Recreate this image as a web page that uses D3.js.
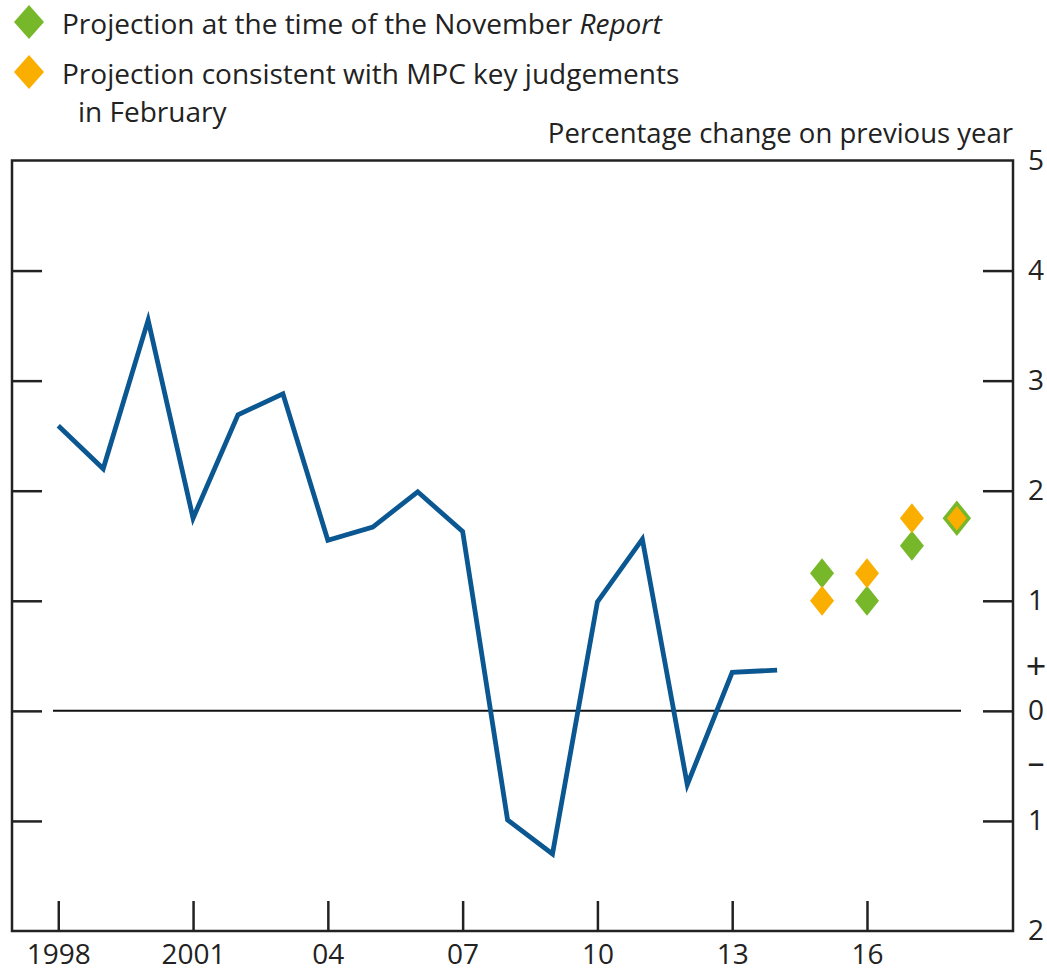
<!DOCTYPE html>
<html>
<head>
<meta charset="utf-8">
<script src="https://cdn.jsdelivr.net/npm/d3@7"></script>
<style>
  body { margin: 0; background: #fff; }
  text { font-family: "Open Sans", sans-serif; fill: #222; }
</style>
</head>
<body>
<script>
// annual data
const years = [1998, 1999, 2000, 2001, 2002, 2003, 2004, 2005, 2006, 2007, 2008, 2009, 2010, 2011, 2012, 2013, 2014]
const growth = [2.59, 2.20, 3.55, 1.75, 2.69, 2.88, 1.55, 1.67, 1.99, 1.63, -0.99, -1.30, 0.99, 1.56, -0.67, 0.35, 0.37]

const projYears = [2015, 2016, 2017, 2018]
const novProj = [1.25, 1.0, 1.5, 1.75]
const febProj = [1.0, 1.25, 1.75, 1.75]

const xTicks = [1998, 2001, 2004, 2007, 2010, 2013, 2016]
const xTickLabels = ['1998', '2001', '04', '07', '10', '13', '16']
const yTicks = [-2, -1, 0, 1, 2, 3, 4, 5]
const yTickLabels = ['2', '1', '0', '1', '2', '3', '4', '5']

const width = 1047
const height = 973
const plotLeft = 12, plotRight = 1013, plotTop = 160.5, plotBottom = 931
const tickLen = 30

const blue = '#0b5792'
const green = '#76b82a'
const orange = '#f9ae00'

const svg = d3.select('body').append('svg')
  .attr('width', width)
  .attr('height', height)

const x = d3.scaleLinear()
  .domain([1996.97, 2019.25])
  .range([plotLeft, plotRight])

const y = d3.scaleLinear()
  .domain([-2, 5])
  .range([plotBottom, plotTop])

// ticks pointing into the plot
svg.append('g')
  .attr('transform', 'translate(0,' + plotBottom + ')')
  .call(d3.axisBottom(x).tickValues(xTicks).tickSize(-tickLen).tickPadding(13)
    .tickFormat((d, i) => xTickLabels[i]))
  .call(g => g.select('.domain').remove())
  .call(g => g.selectAll('line').attr('stroke', '#222').attr('stroke-width', 2.5))
  .call(g => g.selectAll('text').attr('font-size', 28).attr('font-family', '"Open Sans", sans-serif').attr('fill', '#222'))

svg.append('g')
  .attr('transform', 'translate(' + plotLeft + ',0)')
  .call(d3.axisLeft(y).tickValues([-1, 0, 1, 2, 3, 4]).tickSize(-tickLen).tickFormat(''))
  .call(g => g.select('.domain').remove())
  .call(g => g.selectAll('line').attr('stroke', '#222').attr('stroke-width', 2.5))

svg.append('g')
  .attr('transform', 'translate(' + plotRight + ',0)')
  .call(d3.axisRight(y).tickValues(yTicks).tickSize(-tickLen).tickPadding(0)
    .tickFormat((d, i) => yTickLabels[i]))
  .call(g => g.select('.domain').remove())
  .call(g => g.selectAll('line').attr('stroke', '#222').attr('stroke-width', 2.5)
    .attr('display', d => (d === 5 || d === -2) ? 'none' : null))
  .call(g => g.selectAll('text').attr('font-size', 28).attr('font-family', '"Open Sans", sans-serif')
    .attr('fill', '#222').attr('text-anchor', 'middle').attr('x', 23))

// + and - markers beside the zero
svg.append('text').attr('x', plotRight + 23).attr('y', y(0.4)).attr('dy', '0.35em')
  .attr('text-anchor', 'middle').attr('font-size', 36).text('+')
svg.append('text').attr('x', plotRight + 23).attr('y', y(-0.47)).attr('dy', '0.35em')
  .attr('text-anchor', 'middle').attr('font-size', 34).text('–')

// frame
svg.append('rect')
  .attr('x', plotLeft).attr('y', plotTop)
  .attr('width', plotRight - plotLeft).attr('height', plotBottom - plotTop)
  .attr('fill', 'none').attr('stroke', '#222').attr('stroke-width', 2.5)

// zero line
svg.append('line')
  .attr('x1', plotLeft + 41).attr('x2', plotRight - 52)
  .attr('y1', y(0)).attr('y2', y(0))
  .attr('stroke', '#111').attr('stroke-width', 2)

const line = d3.line()
  .x((d, i) => x(years[i]))
  .y(d => y(d))

svg.append('path')
  .datum(growth)
  .attr('d', line)
  .attr('fill', 'none')
  .attr('stroke', blue)
  .attr('stroke-width', 4.8)
  .attr('stroke-linejoin', 'miter')

function diamond(w, h) {
  return 'M0,' + (-h) + 'L' + w + ',0L0,' + h + 'L' + (-w) + ',0Z'
}

svg.selectAll('.nov')
  .data(novProj)
  .enter()
  .append('path')
  .attr('class', 'nov')
  .attr('d', diamond(12, 15))
  .attr('transform', (d, i) => 'translate(' + x(projYears[i]) + ',' + y(d) + ')')
  .attr('fill', green)

svg.selectAll('.feb')
  .data(febProj)
  .enter()
  .append('path')
  .attr('class', 'feb')
  .attr('d', diamond(12, 15))
  .attr('transform', (d, i) => 'translate(' + x(projYears[i]) + ',' + y(d) + ')')
  .attr('fill', orange)
  .attr('stroke', (d, i) => novProj[i] === d ? green : 'none')
  .attr('stroke-width', 3.5)

// legend
const legend = svg.append('g')
legend.append('path').attr('d', diamond(15, 17)).attr('transform', 'translate(29,22)').attr('fill', green)
legend.append('path').attr('d', diamond(15, 17)).attr('transform', 'translate(29,72)').attr('fill', orange)

const t1 = legend.append('text').attr('x', 62).attr('y', 34).attr('font-size', 28)
t1.append('tspan').text('Projection at the time of the November ')
t1.append('tspan').attr('font-style', 'italic').text('Report')
legend.append('text').attr('x', 62).attr('y', 84).attr('font-size', 28)
  .text('Projection consistent with MPC key judgements')
legend.append('text').attr('x', 78).attr('y', 122).attr('font-size', 28)
  .text('in February')

svg.append('text')
  .attr('x', plotRight).attr('y', 143)
  .attr('text-anchor', 'end')
  .attr('font-size', 27.5)
  .text('Percentage change on previous year')
</script>
</body>
</html>
